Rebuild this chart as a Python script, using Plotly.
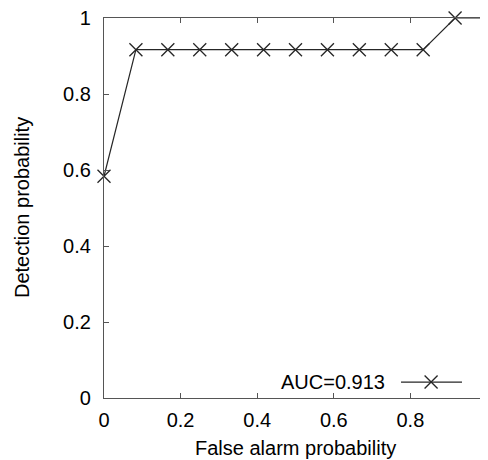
import plotly.graph_objects as go

# ROC data (steps of 1/12)
false_alarm = [0, 1/12, 2/12, 3/12, 4/12, 5/12, 6/12, 7/12, 8/12, 9/12, 10/12, 11/12, 1]
detection = [7/12, 11/12, 11/12, 11/12, 11/12, 11/12, 11/12, 11/12, 11/12, 11/12, 11/12, 1, 1]
auc_label = "AUC=0.913"
x_title = "False alarm probability"
y_title = "Detection probability"

tick_vals = [0, 0.2, 0.4, 0.6, 0.8, 1]
tick_text = ["0", "0.2", "0.4", "0.6", "0.8", "1"]

FONT = "Liberation Sans, Arial, sans-serif"
LINE_COL = "#262626"
FRAME_COL = "#555555"

fig = go.Figure()
fig.add_trace(go.Scatter(
    x=false_alarm, y=detection, mode="lines+markers",
    line=dict(color=LINE_COL, width=1.2),
    marker=dict(symbol="x-thin-open", size=13, line=dict(color=LINE_COL, width=1.3)),
    cliponaxis=False, showlegend=False, name=auc_label,
))

axis_common = dict(
    range=[0, 1], tickvals=tick_vals, ticktext=tick_text,
    ticks="inside", ticklen=5, tickwidth=1, tickcolor=FRAME_COL,
    showline=True, linecolor=FRAME_COL, linewidth=1.3, mirror="allticks",
    showgrid=False, zeroline=False, automargin=False, ticklabeloverflow="allow",
    tickfont=dict(family=FONT, size=20, color="#000"),
)

fig.update_xaxes(**axis_common, ticklabelstandoff=4)
fig.update_yaxes(**axis_common, ticklabelstandoff=8)

# axis titles
fig.add_annotation(x=0.5, y=-0.1316, xref="paper", yref="paper", text=x_title,
                   showarrow=False, xanchor="center", yanchor="middle",
                   font=dict(family=FONT, size=20, color="#000"))
fig.add_annotation(x=-0.214, y=0.5, xref="paper", yref="paper", text=y_title,
                   showarrow=False, xanchor="center", yanchor="middle", textangle=-90,
                   font=dict(family=FONT, size=20, color="#000"))

# legend drawn manually: text on the left, sample line with marker on the right
ly = 0.042
fig.add_annotation(x=0.739, y=ly, xref="paper", yref="paper", text=auc_label,
                   showarrow=False, xanchor="right", yanchor="middle",
                   font=dict(family=FONT, size=20, color="#000"))
fig.add_shape(type="line", xref="paper", yref="paper", x0=0.7755, x1=0.9347, y0=ly, y1=ly,
              line=dict(color=LINE_COL, width=1.2))
mx, dx, dy = 0.854, 6.5/383, 6.5/380
fig.add_shape(type="line", xref="paper", yref="paper", x0=mx-dx, x1=mx+dx, y0=ly-dy, y1=ly+dy,
              line=dict(color=LINE_COL, width=1.3))
fig.add_shape(type="line", xref="paper", yref="paper", x0=mx-dx, x1=mx+dx, y0=ly+dy, y1=ly-dy,
              line=dict(color=LINE_COL, width=1.3))

# the page body has an 8px margin, so the figure is sized/offset to compensate
fig.update_layout(
    width=480, height=452,
    margin=dict(l=96, r=1, t=10, b=62),
    paper_bgcolor="white", plot_bgcolor="white",
    font=dict(family=FONT, size=20, color="#000"),
    showlegend=False,
)

fig.write_html("out.html")
